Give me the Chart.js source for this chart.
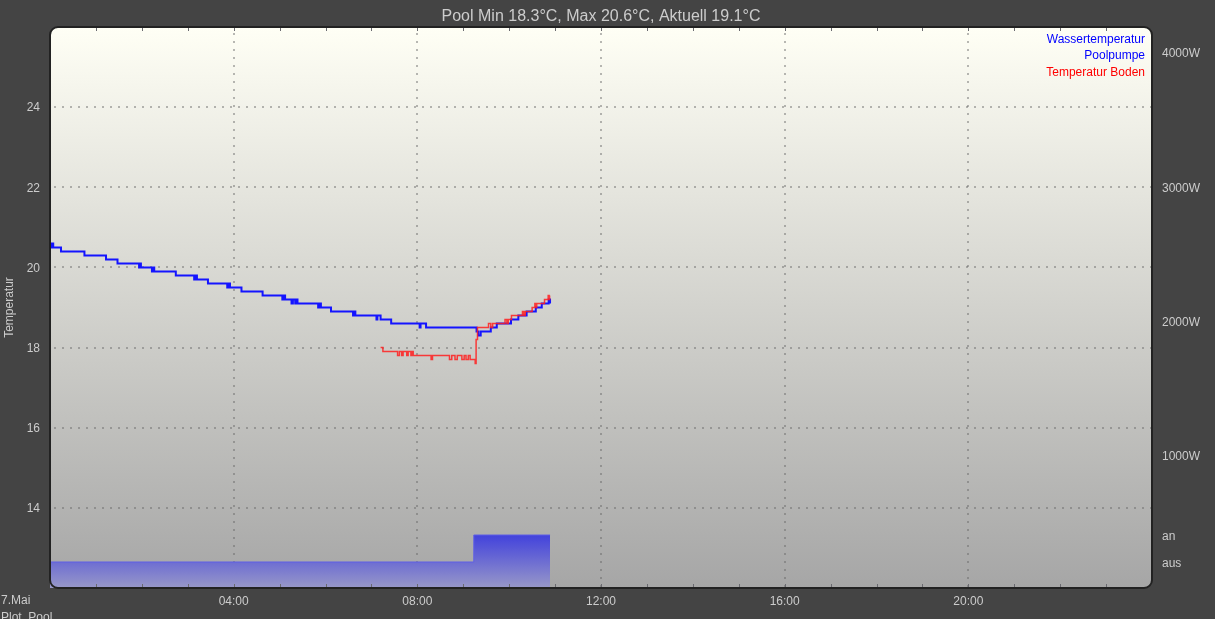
<!DOCTYPE html>
<html><head><meta charset="utf-8">
<script src="https://cdn.jsdelivr.net/npm/chart.js@4"></script>
<style>html,body{margin:0;padding:0;background:#444;overflow:hidden}canvas{display:block}</style>
</head><body><canvas id="c" width="1215" height="619"></canvas>
<script>
const titleText = 'Pool Min 18.3°C, Max 20.6°C, Aktuell 19.1°C';
const yAxisTitle = 'Temperatur';
const dateLabel = '7.Mai';
const plotName = 'Plot_Pool';
const legendLabels = ['Wassertemperatur', 'Poolpumpe', 'Temperatur Boden'];
const legendColors = ['#0000ff', '#0000ff', '#ff0000'];

const xTickHours = [4, 8, 12, 16, 20];
const yTickValues = [14, 16, 18, 20, 22, 24];
const y2TickValues = [0, 1, 3.96, 8.93, 13.89, 18.89];
const y2TickLabels = ['aus', 'an', '1000W', '2000W', '3000W', '4000W'];

// Wassertemperatur (hours since midnight, °C)
const wasserTime = [0.00,0.03,0.05,0.07,0.24,0.75,1.22,1.47,1.94,1.96,1.98,2.22,2.25,2.27,2.74,3.14,3.17,3.20,3.44,3.86,3.89,3.92,4.17,4.63,5.06,5.09,5.12,5.26,5.29,5.34,5.37,5.39,5.84,5.87,5.90,6.12,6.60,6.63,6.65,7.11,7.13,7.20,7.43,8.05,8.07,8.19,9.29,9.33,9.38,9.60,9.73,10.04,10.20,10.38,10.58,10.71,10.86,10.89];
const wasserTemp = [20.6,20.5,20.6,20.5,20.4,20.3,20.2,20.1,20.0,20.1,20.0,19.9,20.0,19.9,19.8,19.7,19.8,19.7,19.6,19.5,19.6,19.5,19.4,19.3,19.2,19.3,19.2,19.1,19.2,19.1,19.2,19.1,19.0,19.1,19.0,18.9,18.8,18.9,18.8,18.7,18.8,18.7,18.6,18.5,18.6,18.5,18.4,18.3,18.4,18.5,18.6,18.7,18.8,18.9,19.0,19.1,19.2,19.1];

// Temperatur Boden
const bodenTime = [7.20,7.25,7.57,7.61,7.66,7.69,7.77,7.80,7.86,7.88,7.91,8.30,8.33,8.70,8.75,8.82,8.87,8.97,9.02,9.06,9.11,9.15,9.26,9.28,9.31,9.55,9.60,9.64,9.91,9.95,9.98,10.05,10.29,10.32,10.35,10.50,10.56,10.58,10.60,10.77,10.85,10.87,10.88];
const bodenTemp = [18.0,17.9,17.8,17.9,17.8,17.9,17.8,17.9,17.8,17.9,17.8,17.7,17.8,17.7,17.8,17.7,17.8,17.7,17.8,17.7,17.8,17.7,17.6,18.2,18.5,18.6,18.5,18.6,18.7,18.6,18.7,18.8,18.9,18.8,18.9,19.0,19.1,19.0,19.1,19.2,19.3,19.2,19.3];

// Poolpumpe (0 = aus, 1 = an)
const pumpTime = [0, 9.23, 10.89];
const pumpState = [0, 1, 1];

const FONT = "'Liberation Sans', Arial, sans-serif";
const TEXT = '#cccccc';

function rr(ctx, a, r) {
  const x = a.left, y = a.top, w = a.right - a.left, h = a.bottom - a.top;
  ctx.beginPath();
  ctx.moveTo(x + r, y);
  ctx.arcTo(x + w, y, x + w, y + h, r);
  ctx.arcTo(x + w, y + h, x, y + h, r);
  ctx.arcTo(x, y + h, x, y, r);
  ctx.arcTo(x, y, x + w, y, r);
  ctx.closePath();
}

const decor = {
  id: 'decor',
  beforeDraw(chart) {
    const ctx = chart.ctx, a = chart.chartArea;
    ctx.save();
    ctx.fillStyle = '#444444';
    ctx.fillRect(0, 0, chart.width, chart.height);
    const g = ctx.createLinearGradient(0, a.top, 0, a.bottom);
    g.addColorStop(0, '#fffff5');
    g.addColorStop(1, '#a6a6a6');
    rr(ctx, a, 8);
    ctx.fillStyle = g;
    ctx.fill();
    ctx.restore();
  },
  beforeDatasetsDraw(chart) {
    const ctx = chart.ctx, a = chart.chartArea, xs = chart.scales.x, ys = chart.scales.y;
    ctx.save();
    ctx.strokeStyle = 'rgba(100,100,100,0.45)';
    ctx.lineWidth = 2;
    ctx.setLineDash([2, 6]);
    xTickHours.forEach(h => {
      const x = Math.round(xs.getPixelForValue(h));
      ctx.beginPath(); ctx.moveTo(x, a.top + 6); ctx.lineTo(x, a.bottom); ctx.stroke();
    });
    yTickValues.forEach(v => {
      const y = Math.round(ys.getPixelForValue(v));
      ctx.beginPath(); ctx.moveTo(a.left + 4, y); ctx.lineTo(a.right, y); ctx.stroke();
    });
    ctx.restore();
  },
  afterDatasetsDraw(chart) {
    const ctx = chart.ctx, a = chart.chartArea, xs = chart.scales.x;
    ctx.save();
    ctx.strokeStyle = '#6a6a70';
    ctx.lineWidth = 1;
    for (let h = 1; h < 24; h++) {
      const x = Math.round(xs.getPixelForValue(h)) + 0.5;
      ctx.beginPath(); ctx.moveTo(x, a.top); ctx.lineTo(x, a.top + 4); ctx.stroke();
      ctx.beginPath(); ctx.moveTo(x, a.bottom - 4); ctx.lineTo(x, a.bottom); ctx.stroke();
    }
    rr(ctx, a, 8);
    ctx.strokeStyle = '#222222';
    ctx.lineWidth = 2;
    ctx.stroke();
    ctx.font = '12px ' + FONT;
    ctx.textAlign = 'right';
    ctx.textBaseline = 'middle';
    legendLabels.forEach((t, i) => {
      ctx.fillStyle = legendColors[i];
      ctx.fillText(t, a.right - 7, a.top + 12.5 + i * 16.5);
    });
    ctx.restore();
  },
  afterDraw(chart) {
    const ctx = chart.ctx, a = chart.chartArea;
    ctx.save();
    ctx.fillStyle = TEXT;
    ctx.textBaseline = 'middle';
    ctx.textAlign = 'center';
    ctx.font = '16px ' + FONT;
    ctx.fillText(titleText, (a.left + a.right) / 2, 17);
    ctx.font = '12px ' + FONT;
    ctx.save();
    ctx.translate(10, (a.top + a.bottom) / 2);
    ctx.rotate(-Math.PI / 2);
    ctx.fillText(yAxisTitle, 0, 0);
    ctx.restore();
    ctx.textAlign = 'left';
    ctx.fillText(dateLabel, 1, 601);
    ctx.fillText(plotName, 1, 618);
    ctx.restore();
  }
};

const toPts = (xs, ys) => xs.map((t, i) => ({ x: t, y: ys[i] }));

new Chart(document.getElementById('c'), {
  type: 'line',
  data: {
    datasets: [
      {
        label: legendLabels[2], data: toPts(bodenTime, bodenTemp), yAxisID: 'y',
        borderColor: 'rgba(255,30,30,0.85)', borderWidth: 1.5, stepped: true,
        pointRadius: 0, fill: false
      },
      {
        label: legendLabels[0], data: toPts(wasserTime, wasserTemp), yAxisID: 'y',
        borderColor: '#1414ff', borderWidth: 2, stepped: true,
        pointRadius: 0, fill: false
      },
      {
        label: legendLabels[1], data: toPts(pumpTime, pumpState), yAxisID: 'y2',
        borderColor: '#5e5ee6', borderWidth: 1, stepped: true,
        pointRadius: 0, fill: 'start',
        backgroundColor: (c) => {
          const ch = c.chart, a = ch.chartArea;
          if (!a) return 'rgba(80,80,220,0.6)';
          const top = ch.scales.y2.getPixelForValue(1);
          const g = ch.ctx.createLinearGradient(0, top, 0, a.bottom);
          g.addColorStop(0, '#4242dc');
          g.addColorStop(1, '#9898c8');
          return g;
        }
      }
    ]
  },
  options: {
    responsive: false, animation: false, devicePixelRatio: 1,
    layout: { padding: { top: 27, left: 0, right: 0, bottom: 0 } },
    plugins: { legend: { display: false }, tooltip: { enabled: false }, title: { display: false } },
    scales: {
      x: {
        type: 'linear', position: 'bottom', min: 0, max: 24,
        grid: { display: false, drawTicks: false }, border: { display: false },
        afterFit: s => { s.height = 31; },
        afterBuildTicks: s => { s.ticks = xTickHours.map(v => ({ value: v })); },
        ticks: {
          color: TEXT, font: { family: FONT, size: 12 }, padding: 6,
          maxRotation: 0, autoSkip: false,
          callback: v => String(v).padStart(2, '0') + ':00'
        }
      },
      y: {
        position: 'left', min: 12, max: 26,
        grid: { display: false, drawTicks: false }, border: { display: false },
        afterFit: s => { s.width = 50; },
        afterBuildTicks: s => { s.ticks = yTickValues.map(v => ({ value: v })); },
        ticks: { color: TEXT, font: { family: FONT, size: 12 }, padding: 10, autoSkip: false, labelOffset: 1 }
      },
      y2: {
        position: 'right', min: -26 / 27, max: -26 / 27 + 561 / 27,
        grid: { display: false, drawTicks: false }, border: { display: false },
        afterFit: s => { s.width = 63; },
        afterBuildTicks: s => { s.ticks = y2TickValues.map(v => ({ value: v })); },
        ticks: {
          color: TEXT, font: { family: FONT, size: 12 }, padding: 10, autoSkip: false, labelOffset: 1.5,
          callback: (v, i) => y2TickLabels[i]
        }
      }
    }
  },
  plugins: [decor]
});
</script>
</body></html>
